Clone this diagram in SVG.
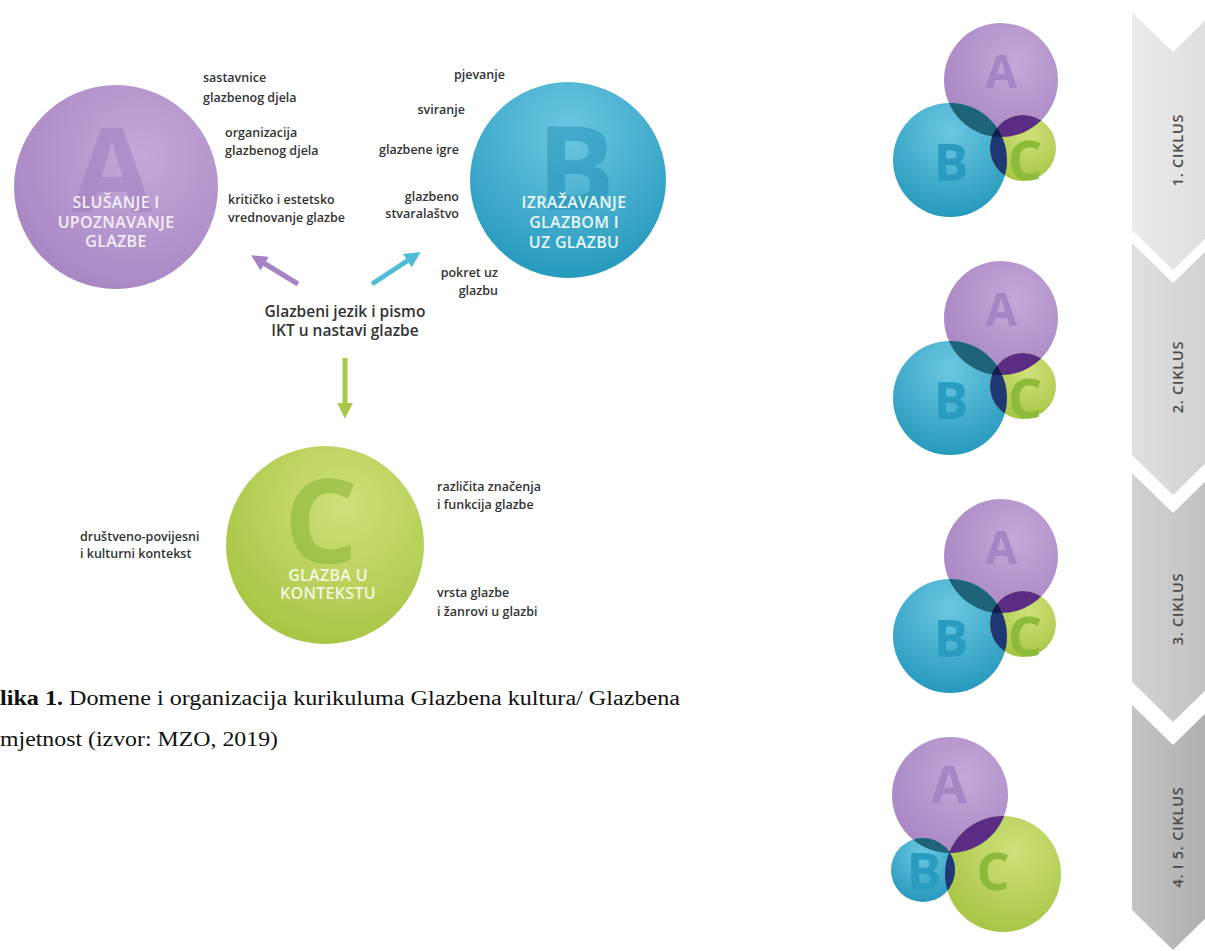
<svg xmlns="http://www.w3.org/2000/svg" width="1205" height="951" viewBox="0 0 1205 951">
<defs>
<style>
.lbl{font-family:"Open Sans","Liberation Sans",sans-serif;font-size:12.5px;font-weight:600;fill:#333333}
.lblr{font-family:"Open Sans","Liberation Sans",sans-serif;font-size:12.5px;font-weight:600;fill:#333333;text-anchor:end}
.mid{font-family:"Open Sans","Liberation Sans",sans-serif;font-size:15.5px;font-weight:600;fill:#333333;text-anchor:middle}
.ttl{font-family:"Open Sans","Liberation Sans",sans-serif;font-size:16px;font-weight:600;letter-spacing:0.3px;text-anchor:middle}
.big{font-family:"Open Sans","Liberation Sans",sans-serif;font-weight:700;text-anchor:middle}
.cyc{font-family:"Open Sans","Liberation Sans",sans-serif;font-size:14.5px;font-weight:600;letter-spacing:0.8px;fill:#4a4a4a;text-anchor:middle}
.cap{font-family:"Liberation Serif","Times New Roman",serif;font-size:20px;fill:#111}
</style>
<radialGradient id="gA" cx="0.62" cy="0.35" r="0.75">
<stop offset="0" stop-color="#c4a9d9"/><stop offset="1" stop-color="#a784c2"/>
</radialGradient>
<radialGradient id="gB" cx="0.5" cy="0.25" r="0.85">
<stop offset="0" stop-color="#6cc8e2"/><stop offset="1" stop-color="#1d93b8"/>
</radialGradient>
<radialGradient id="gC" cx="0.6" cy="0.3" r="0.8">
<stop offset="0" stop-color="#cfe07a"/><stop offset="1" stop-color="#a3c33e"/>
</radialGradient>
<linearGradient id="ch1" x1="0" y1="0" x2="1" y2="0"><stop offset="0" stop-color="#ececec"/><stop offset="1" stop-color="#dddddd"/></linearGradient>
<linearGradient id="ch2" x1="0" y1="0" x2="1" y2="0"><stop offset="0" stop-color="#e0e0e0"/><stop offset="1" stop-color="#d0d0d0"/></linearGradient>
<linearGradient id="ch3" x1="0" y1="0" x2="1" y2="0"><stop offset="0" stop-color="#d2d2d2"/><stop offset="1" stop-color="#c0c0c0"/></linearGradient>
<linearGradient id="ch4" x1="0" y1="0" x2="1" y2="0"><stop offset="0" stop-color="#c4c4c4"/><stop offset="1" stop-color="#adadad"/></linearGradient>
<marker id="arr" viewBox="0 0 10 10" refX="2" refY="5" markerWidth="3.2" markerHeight="3.2" orient="auto" markerUnits="strokeWidth">
<path d="M0,0 L10,5 L0,10 z" fill="context-stroke"/>
</marker>
<clipPath id="cA1"><circle cx="1001" cy="80" r="57"/></clipPath>
<clipPath id="cB1"><circle cx="950" cy="160" r="57"/></clipPath>
<clipPath id="cA4"><circle cx="950" cy="795" r="58"/></clipPath>
<clipPath id="cB4"><circle cx="923" cy="870" r="32"/></clipPath>
</defs>
<rect width="1205" height="951" fill="#ffffff"/>

<g id="nodeA">
<circle cx="116" cy="187" r="102" fill="url(#gA)"/>
<text class="big" x="112" y="212" font-size="116" fill="#9d79bb" fill-opacity="0.5">A</text>
<text class="ttl" x="116" y="208" fill="#f4eef9">SLUŠANJE I</text>
<text class="ttl" x="116" y="228" fill="#f4eef9">UPOZNAVANJE</text>
<text class="ttl" x="116" y="247" fill="#f4eef9">GLAZBE</text>
</g>
<g id="nodeB">
<circle cx="568" cy="180" r="98" fill="url(#gB)"/>
<text class="big" x="576" y="210" font-size="116" fill="#2592b8" fill-opacity="0.55">B</text>
<text class="ttl" x="574" y="208" fill="#eaf7fb">IZRAŽAVANJE</text>
<text class="ttl" x="574" y="228" fill="#eaf7fb">GLAZBOM I</text>
<text class="ttl" x="574" y="248" fill="#eaf7fb">UZ GLAZBU</text>
</g>
<g id="nodeC">
<circle cx="325" cy="545" r="99" fill="url(#gC)"/>
<text class="big" x="321" y="563" font-size="116" fill="#8ab83a" fill-opacity="0.6">C</text>
<text class="ttl" x="328" y="581" fill="#f3f8e3">GLAZBA U</text>
<text class="ttl" x="328" y="599" fill="#f3f8e3">KONTEKSTU</text>
</g>

<g id="labels">
<text class="lbl" x="203" y="82">sastavnice</text>
<text class="lbl" x="203" y="102">glazbenog djela</text>
<text class="lbl" x="225" y="137">organizacija</text>
<text class="lbl" x="225" y="155">glazbenog djela</text>
<text class="lbl" x="228" y="204">kritičko i estetsko</text>
<text class="lbl" x="228" y="222">vrednovanje glazbe</text>
<text class="lblr" x="505" y="79">pjevanje</text>
<text class="lblr" x="465" y="114">sviranje</text>
<text class="lblr" x="459" y="154">glazbene igre</text>
<text class="lblr" x="459" y="201">glazbeno</text>
<text class="lblr" x="459" y="218">stvaralaštvo</text>
<text class="lblr" x="498" y="277">pokret uz</text>
<text class="lblr" x="498" y="295">glazbu</text>
<text class="mid" x="345" y="317">Glazbeni jezik i pismo</text>
<text class="mid" x="345" y="336">IKT u nastavi glazbe</text>
<text class="lbl" x="437" y="491">različita značenja</text>
<text class="lbl" x="437" y="509">i funkcija glazbe</text>
<text class="lbl" x="80" y="541">društveno-povijesni</text>
<text class="lbl" x="80" y="558">i kulturni kontekst</text>
<text class="lbl" x="437" y="597">vrsta glazbe</text>
<text class="lbl" x="437" y="616">i žanrovi u glazbi</text>
</g>

<g id="connectors" fill="none" stroke-width="5">
<line x1="298" y1="284" x2="262" y2="262" stroke="#a583c4" marker-end="url(#arr)"/>
<line x1="372" y1="284" x2="410" y2="259" stroke="#4fbcd8" marker-end="url(#arr)"/>
<line x1="345" y1="358" x2="345" y2="406" stroke="#a8c84a" marker-end="url(#arr)"/>
</g>

<g id="caption">
<text class="cap" x="0" y="705" textLength="680" lengthAdjust="spacingAndGlyphs"><tspan font-weight="700">lika 1.</tspan> Domene i organizacija kurikuluma Glazbena kultura/ Glazbena</text>
<text class="cap" x="0" y="746" textLength="278" lengthAdjust="spacingAndGlyphs">mjetnost (izvor: MZO, 2019)</text>
</g>

<g id="cluster1">
<circle cx="1001" cy="80" r="57" fill="url(#gA)"/>
<circle cx="950" cy="160" r="57" fill="url(#gB)"/>
<circle cx="1023" cy="148" r="33" fill="url(#gC)"/>
<text class="big" x="1001" y="88" font-size="46" fill="#a585c4">A</text>
<text class="big" x="951" y="181" font-size="52" fill="#2a9cc0">B</text>
<text class="big" x="1025" y="180" font-size="54" fill="#8cba3a">C</text>
<circle cx="950" cy="160" r="57" fill="#1d6479" clip-path="url(#cA1)"/>
<circle cx="1023" cy="148" r="33" fill="#5b2c83" clip-path="url(#cA1)"/>
<circle cx="1023" cy="148" r="33" fill="#1f3873" clip-path="url(#cB1)"/>
<g clip-path="url(#cA1)"><circle cx="1023" cy="148" r="33" fill="#141c4a" clip-path="url(#cB1)"/></g>
</g>
<g id="cluster2" transform="translate(0,238)">
<circle cx="1001" cy="80" r="57" fill="url(#gA)"/>
<circle cx="950" cy="160" r="57" fill="url(#gB)"/>
<circle cx="1023" cy="148" r="33" fill="url(#gC)"/>
<text class="big" x="1001" y="88" font-size="46" fill="#a585c4">A</text>
<text class="big" x="951" y="181" font-size="52" fill="#2a9cc0">B</text>
<text class="big" x="1025" y="180" font-size="54" fill="#8cba3a">C</text>
<circle cx="950" cy="160" r="57" fill="#1d6479" clip-path="url(#cA1)"/>
<circle cx="1023" cy="148" r="33" fill="#5b2c83" clip-path="url(#cA1)"/>
<circle cx="1023" cy="148" r="33" fill="#1f3873" clip-path="url(#cB1)"/>
<g clip-path="url(#cA1)"><circle cx="1023" cy="148" r="33" fill="#141c4a" clip-path="url(#cB1)"/></g>
</g>
<g id="cluster3" transform="translate(0,476)">
<circle cx="1001" cy="80" r="57" fill="url(#gA)"/>
<circle cx="950" cy="160" r="57" fill="url(#gB)"/>
<circle cx="1023" cy="148" r="33" fill="url(#gC)"/>
<text class="big" x="1001" y="88" font-size="46" fill="#a585c4">A</text>
<text class="big" x="951" y="181" font-size="52" fill="#2a9cc0">B</text>
<text class="big" x="1025" y="180" font-size="54" fill="#8cba3a">C</text>
<circle cx="950" cy="160" r="57" fill="#1d6479" clip-path="url(#cA1)"/>
<circle cx="1023" cy="148" r="33" fill="#5b2c83" clip-path="url(#cA1)"/>
<circle cx="1023" cy="148" r="33" fill="#1f3873" clip-path="url(#cB1)"/>
<g clip-path="url(#cA1)"><circle cx="1023" cy="148" r="33" fill="#141c4a" clip-path="url(#cB1)"/></g>
</g>
<g id="cluster4">
<circle cx="950" cy="795" r="58" fill="url(#gA)"/>
<circle cx="1003" cy="874" r="58" fill="url(#gC)"/>
<circle cx="923" cy="870" r="32" fill="url(#gB)"/>
<text class="big" x="949" y="803" font-size="52" fill="#a585c4">A</text>
<text class="big" x="924" y="890" font-size="52" fill="#2a9cc0">B</text>
<text class="big" x="993" y="890" font-size="52" fill="#8cba3a">C</text>
<circle cx="923" cy="870" r="32" fill="#1d6479" clip-path="url(#cA4)"/>
<circle cx="1003" cy="874" r="58" fill="#5b2c83" clip-path="url(#cA4)"/>
<circle cx="1003" cy="874" r="58" fill="#1f3873" clip-path="url(#cB4)"/>
<g clip-path="url(#cA4)"><circle cx="1003" cy="874" r="58" fill="#141c4a" clip-path="url(#cB4)"/></g>
</g>

<g id="cycle1">
<polygon points="1132,12 1173,52 1214,12 1214,230 1173,270 1132,230" fill="url(#ch1)"/>
<text class="cyc" transform="translate(1183,150) rotate(-90)">1. CIKLUS</text>
</g>
<g id="cycle2">
<polygon points="1132,243 1173,283 1214,243 1214,455 1173,495 1132,455" fill="url(#ch2)"/>
<text class="cyc" transform="translate(1183,377) rotate(-90)">2. CIKLUS</text>
</g>
<g id="cycle3">
<polygon points="1132,473 1173,513 1214,473 1214,682 1173,722 1132,682" fill="url(#ch3)"/>
<text class="cyc" transform="translate(1183,609) rotate(-90)">3. CIKLUS</text>
</g>
<g id="cycle4">
<polygon points="1132,705 1173,745 1214,705 1214,910 1173,950 1132,910" fill="url(#ch4)"/>
<text class="cyc" transform="translate(1183,837) rotate(-90)">4. I 5. CIKLUS</text>
</g>
</svg>
